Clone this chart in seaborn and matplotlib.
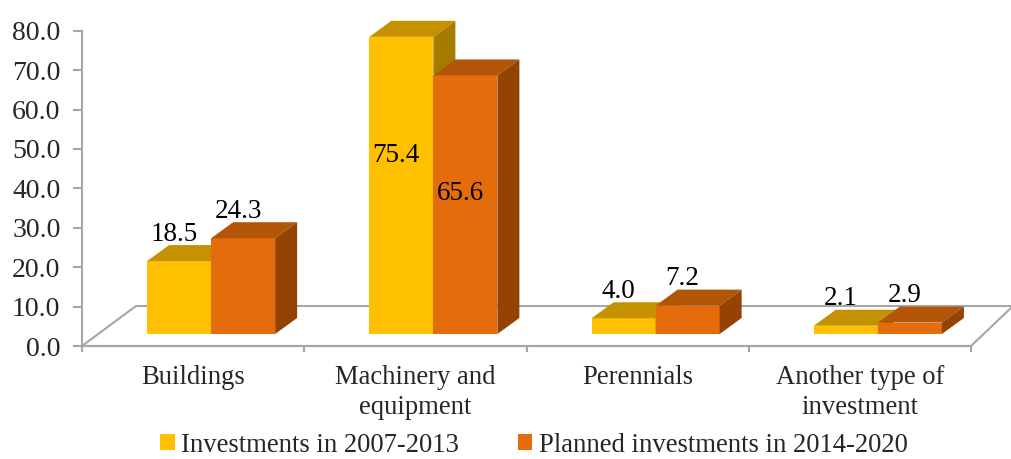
import numpy as np
import pandas as pd
import seaborn as sns
import matplotlib.pyplot as plt
from matplotlib.patches import Polygon, Patch

categories = ["Buildings", "Machinery and\nequipment", "Perennials", "Another type of\ninvestment"]
series = ["Investments in 2007-2013", "Planned investments in 2014-2020"]
inv_2007_2013 = [18.5, 75.4, 4.0, 2.1]
inv_2014_2020 = [24.3, 65.6, 7.2, 2.9]

front_col = ["#FFC000", "#E46C0A"]
top_col = ["#C49200", "#B35506"]
side_col = ["#A67C00", "#954305"]
grey = "#A6A6A6"

df = pd.DataFrame({
    "category": categories * 2,
    "series": [series[0]] * 4 + [series[1]] * 4,
    "value": inv_2007_2013 + inv_2014_2020,
})

sns.set_theme(style="white")
plt.rcParams["font.family"] = ["Liberation Serif", "DejaVu Serif"]

W, H = 1011, 459
fig = plt.figure(figsize=(W / 100, H / 100), dpi=100)
ax = fig.add_axes([82 / W, 113 / H, 889 / W, 315.3 / H])

sns.barplot(data=df, x="category", y="value", hue="series", palette=front_col,
            saturation=1, width=0.576, errorbar=None, linewidth=0,
            legend=False, ax=ax)
ax.set_xlim(-0.5, 3.5)
ax.set_ylim(0, 80)

# pixel -> data units
ux = 4.0 / 889
uy = 80.0 / 315.3

# bars sit a bit inside the floor; depth of each bar
sx, sy = 18, 12
dx, dy = 22, 16

for j, cont in enumerate(ax.containers):
    for p, v in zip(cont.patches, cont.datavalues):
        x0 = p.get_x() + sx * ux
        w = p.get_width()
        b = sy * uy
        p.set_x(x0)
        p.set_y(b)
        p.set_zorder(2 + j)
        x1 = x0 + w
        t = b + v
        ax.add_patch(Polygon([(x0, t), (x1, t), (x1 + dx * ux, t + dy * uy), (x0 + dx * ux, t + dy * uy)],
                             closed=True, facecolor=top_col[j], edgecolor="none", zorder=2 + j, clip_on=False))
        ax.add_patch(Polygon([(x1, b), (x1, t), (x1 + dx * ux, t + dy * uy), (x1 + dx * ux, b + dy * uy)],
                             closed=True, facecolor=side_col[j], edgecolor="none", zorder=2 + j, clip_on=False))
        xc = x0 + w / 2 - 5 * ux
        if v > 50:
            ty = t - 30
        else:
            ty = t + 27 * uy
        ax.text(xc, ty, f"{v:.1f}", ha="center", va="center", fontsize=19.5,
                color="black", zorder=5, clip_on=False)

# floor outline
ax.add_patch(Polygon([(-0.5, 0), (3.5, 0), (3.5 + 42 * ux, 40 * uy), (-0.5 + 54 * ux, 40 * uy)],
                     closed=True, facecolor="none", edgecolor=grey, linewidth=1.5,
                     zorder=1, clip_on=False))

for s in ["top", "right"]:
    ax.spines[s].set_visible(False)
for s in ["left", "bottom"]:
    ax.spines[s].set_color(grey)
    ax.spines[s].set_linewidth(1.5)

ax.set_yticks(np.arange(0, 81, 10))
ax.set_yticklabels([f"{t:.1f}" for t in np.arange(0, 81, 10)], fontsize=20)
ax.tick_params(axis="y", direction="out", length=6.5, width=1.5, color=grey, pad=9, left=True)

ax.set_xticks(range(4))
ax.set_xticklabels(categories, fontsize=19.2, linespacing=1.25)
ax.set_xticks(np.arange(-0.5, 3.6, 1), minor=True)
ax.tick_params(axis="x", which="major", length=0, pad=14)
ax.tick_params(axis="x", which="minor", direction="out", length=4.5, width=1.5, color=grey, bottom=True)
ax.set_xlabel("")
ax.set_ylabel("")
ax.set_facecolor("none")

handles = [Patch(facecolor=front_col[i], edgecolor="none") for i in range(2)]
fig.legend(handles, series, loc="center", bbox_to_anchor=(534 / W, 14 / H),
           ncol=2, frameon=False, fontsize=19.2, handlelength=0.55, handleheight=0.55,
           handletextpad=0.25, columnspacing=2.2, borderpad=0, borderaxespad=0)

fig.savefig("out.png", dpi=100, facecolor="white")
